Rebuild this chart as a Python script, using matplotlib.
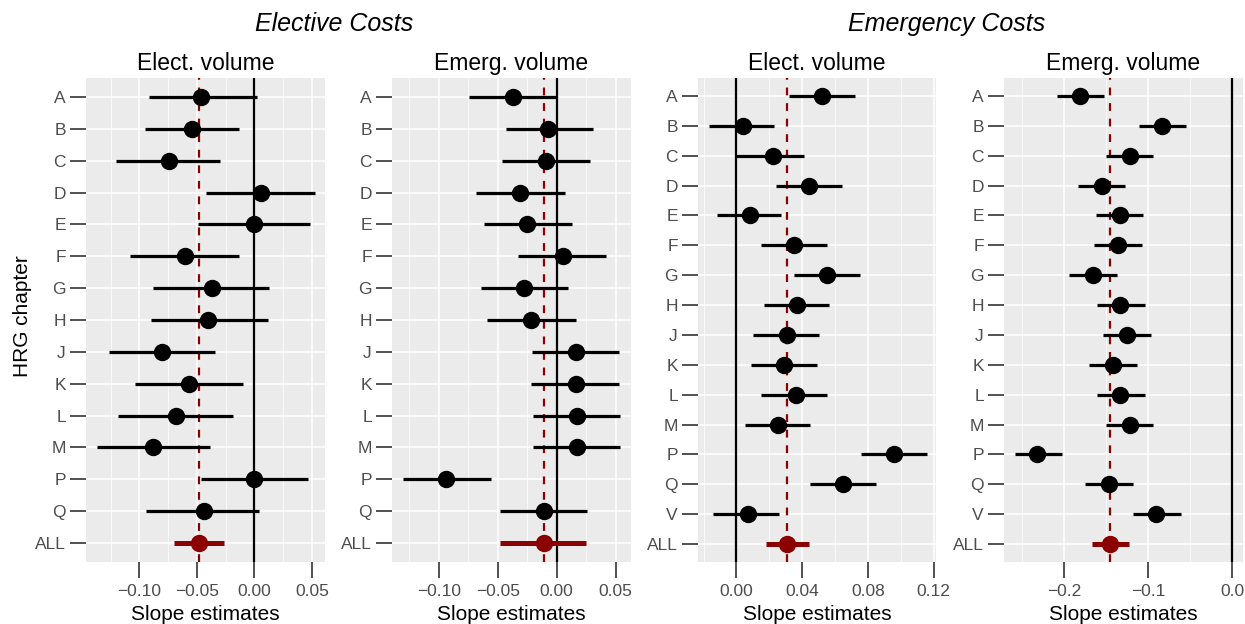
import matplotlib.pyplot as plt
from matplotlib.ticker import MultipleLocator

plt.rcParams['font.family'] = ['Liberation Sans', 'DejaVu Sans']

# categories
chapters_elec = ["A", "B", "C", "D", "E", "F", "G", "H", "J", "K", "L", "M", "P", "Q", "ALL"]
chapters_emer = ["A", "B", "C", "D", "E", "F", "G", "H", "J", "K", "L", "M", "P", "Q", "V", "ALL"]

# Elective costs ~ elective volume
el_el_est = [-0.046, -0.054, -0.074, 0.006, 0.000, -0.060, -0.037, -0.040, -0.080, -0.057, -0.068, -0.088, 0.000, -0.044, -0.048]
el_el_lo = [-0.092, -0.095, -0.120, -0.042, -0.049, -0.108, -0.088, -0.090, -0.126, -0.104, -0.119, -0.137, -0.046, -0.094, -0.070]
el_el_hi = [0.002, -0.013, -0.030, 0.053, 0.048, -0.013, 0.013, 0.012, -0.034, -0.010, -0.019, -0.039, 0.047, 0.004, -0.026]

# Elective costs ~ emergency volume
el_em_est = [-0.037, -0.007, -0.009, -0.031, -0.025, 0.005, -0.028, -0.022, 0.016, 0.016, 0.017, 0.017, -0.094, -0.011, -0.011]
el_em_lo = [-0.074, -0.043, -0.046, -0.068, -0.062, -0.033, -0.064, -0.059, -0.021, -0.022, -0.020, -0.020, -0.130, -0.048, -0.048]
el_em_hi = [0.000, 0.031, 0.028, 0.007, 0.013, 0.042, 0.010, 0.016, 0.053, 0.053, 0.054, 0.054, -0.056, 0.026, 0.025]

# Emergency costs ~ elective volume
em_el_est = [0.052, 0.004, 0.022, 0.044, 0.008, 0.035, 0.055, 0.037, 0.031, 0.029, 0.036, 0.025, 0.096, 0.065, 0.007, 0.031]
em_el_lo = [0.032, -0.017, 0.000, 0.024, -0.012, 0.015, 0.035, 0.017, 0.010, 0.009, 0.015, 0.005, 0.076, 0.045, -0.014, 0.018]
em_el_hi = [0.072, 0.023, 0.041, 0.064, 0.027, 0.055, 0.075, 0.056, 0.050, 0.049, 0.055, 0.045, 0.116, 0.085, 0.026, 0.044]

# Emergency costs ~ emergency volume
em_em_est = [-0.181, -0.084, -0.122, -0.155, -0.133, -0.136, -0.166, -0.133, -0.125, -0.142, -0.133, -0.122, -0.232, -0.147, -0.090, -0.145]
em_em_lo = [-0.208, -0.111, -0.150, -0.183, -0.162, -0.164, -0.194, -0.161, -0.154, -0.170, -0.161, -0.150, -0.259, -0.175, -0.118, -0.167]
em_em_hi = [-0.152, -0.055, -0.094, -0.127, -0.106, -0.107, -0.137, -0.104, -0.097, -0.113, -0.104, -0.094, -0.202, -0.118, -0.061, -0.123]

W, H = 1245, 624
fig = plt.figure(figsize=(W / 100, H / 100), dpi=100)

DARKRED = '#8B0000'
TICKGREY = '#4D4D4D'

panels = [
    (86, 325, chapters_elec, el_el_est, el_el_lo, el_el_hi, "Elect. volume", (-0.1464, 0.0614), [-0.10, -0.05, 0.00, 0.05], 0.025, "{:.2f}"),
    (392, 631, chapters_elec, el_em_est, el_em_lo, el_em_hi, "Emerg. volume", (-0.1396, 0.063), [-0.10, -0.05, 0.00, 0.05], 0.025, "{:.2f}"),
    (698, 936, chapters_emer, em_el_est, em_el_lo, em_el_hi, "Elect. volume", (-0.0234, 0.1214), [0.00, 0.04, 0.08, 0.12], 0.02, "{:.2f}"),
    (1004, 1243, chapters_emer, em_em_est, em_em_lo, em_em_hi, "Emerg. volume", (-0.2717, 0.0131), [-0.2, -0.1, 0.0], 0.05, "{:.1f}"),
]

top, bottom = 78, 562
for (x0, x1, cats, est, lo, hi, title, xlim, xticks, minor, fmt) in panels:
    ax = fig.add_axes([x0 / W, 1 - bottom / H, (x1 - x0) / W, (bottom - top) / H])
    ax.set_facecolor('#EBEBEB')
    for s in ax.spines.values():
        s.set_visible(False)
    n = len(cats)
    ys = list(range(n))

    ax.set_xlim(*xlim)
    ax.set_ylim(n - 1 + 0.6, -0.6)
    ax.set_xticks(xticks)
    ax.set_xticklabels([fmt.format(t).replace('-', '\u2212') for t in xticks])
    ax.xaxis.set_minor_locator(MultipleLocator(minor))
    ax.set_yticks(ys)
    ax.set_yticklabels(cats)

    ax.grid(which='major', color='white', linewidth=1.1)
    ax.grid(which='minor', axis='x', color='white', linewidth=0.5)
    ax.set_axisbelow(True)
    ax.tick_params(which='minor', length=0)
    ax.tick_params(which='major', length=11.5, width=1.2, color='#333333',
                   labelcolor=TICKGREY, labelsize=12.5, pad=3)
    ax.tick_params(axis='x', pad=4)

    ax.axvline(0, color='black', linewidth=1.6, zorder=2)
    ax.axvline(est[-1], color=DARKRED, linewidth=1.6, linestyle=(0, (3.5, 3.5)), zorder=2)

    for i in range(n):
        c = DARKRED if i == n - 1 else 'black'
        lw = 3.6 if i == n - 1 else 2.3
        ax.plot([lo[i], hi[i]], [ys[i], ys[i]], color=c, linewidth=lw, solid_capstyle='butt', zorder=3)
        ax.plot(est[i], ys[i], 'o', color=c, markersize=11.5, zorder=4)

    ax.set_title(title, fontsize=16.5, pad=6)
    ax.set_xlabel("Slope estimates", fontsize=15, labelpad=5)

fig.text(23 / W, 1 - 316 / H, "HRG chapter", fontsize=15, rotation=90, ha='center', va='center')
fig.text(334 / W, 1 - 24 / H, "Elective Costs", fontsize=18, style='italic', ha='center', va='center')
fig.text(947 / W, 1 - 24 / H, "Emergency Costs", fontsize=18, style='italic', ha='center', va='center')

fig.savefig("out.png", dpi=100)
